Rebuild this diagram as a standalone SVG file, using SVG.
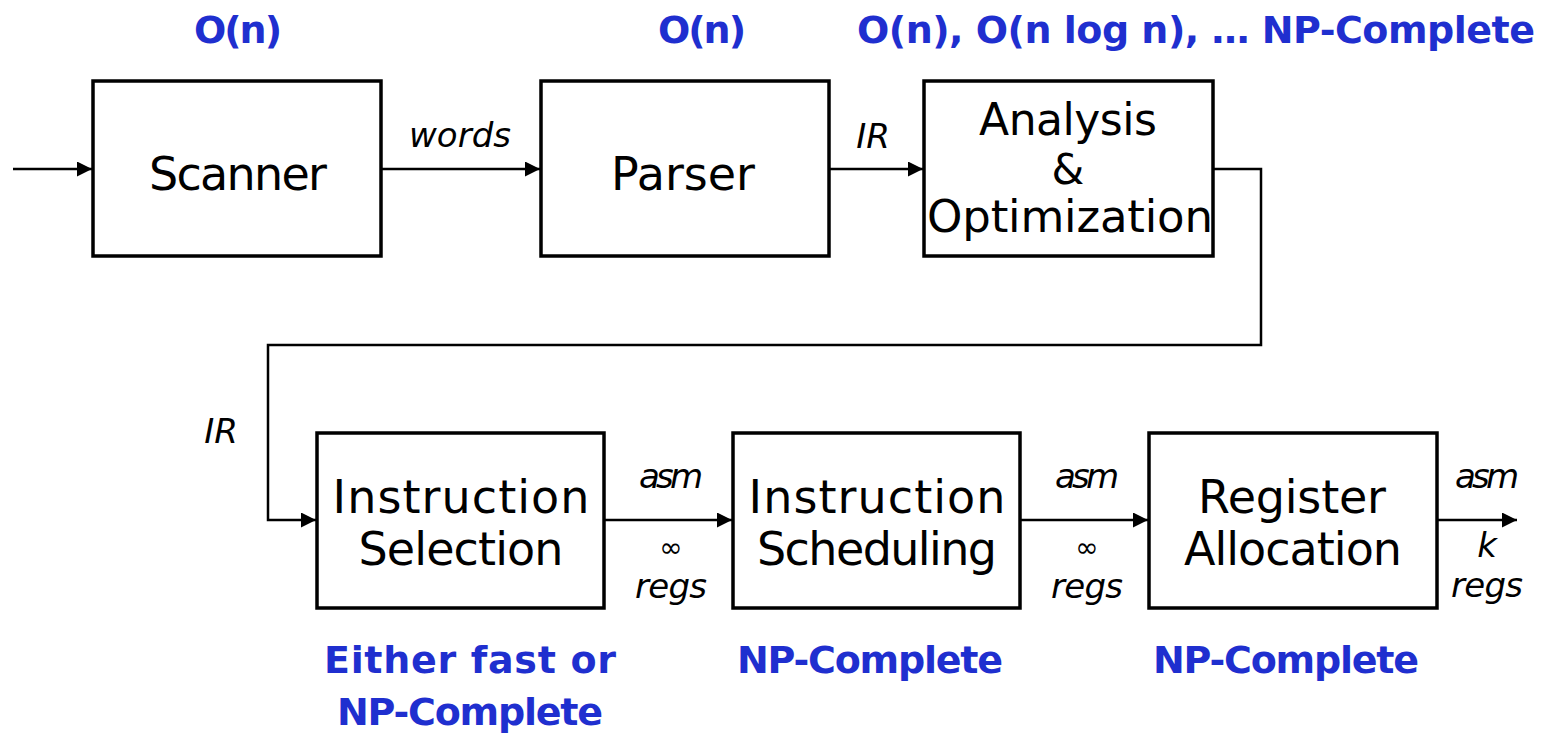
<svg xmlns="http://www.w3.org/2000/svg" width="1543" height="735" viewBox="0 0 1543 735">
<style>
.box{fill:#fff;stroke:#000;stroke-width:3.5}
.lbl{font-family:"DejaVu Sans",sans-serif;font-size:46px;fill:#000;text-anchor:middle}
.it{font-family:"DejaVu Sans",sans-serif;font-style:italic;font-size:34px;fill:#000;text-anchor:middle}
.inf{font-size:28px}
.cx{font-family:"DejaVu Sans",sans-serif;font-weight:bold;font-size:38px;fill:#1f2fcf;text-anchor:middle}
.ln{fill:none;stroke:#000;stroke-width:2.5}
</style>
<defs>
<marker id="ah" viewBox="0 0 10 10" refX="10" refY="5" markerWidth="15" markerHeight="15" markerUnits="userSpaceOnUse" orient="auto">
<path d="M0,0 L10,5 L0,10 z" fill="#000"/>
</marker>
</defs>
<g id="connectors">
<path class="ln" d="M13,169 H92" marker-end="url(#ah)"/>
<path class="ln" d="M381,169 H540" marker-end="url(#ah)"/>
<path class="ln" d="M829,169 H923" marker-end="url(#ah)"/>
<path class="ln" d="M1213,169 H1261 V345 H268 V520 H316" marker-end="url(#ah)" stroke-width="2"/>
<path class="ln" d="M604,520 H732" marker-end="url(#ah)"/>
<path class="ln" d="M1020,520 H1148" marker-end="url(#ah)"/>
<path class="ln" d="M1437,520 H1517" marker-end="url(#ah)"/>
<text class="it" x="460" y="147" textLength="102">words</text>
<text class="it" x="873" y="148">IR</text>
<text class="it" x="221" y="443">IR</text>
<text class="it" x="671" y="488" textLength="64">asm</text>
<text class="it inf" x="671" y="557">∞</text>
<text class="it" x="671" y="598" textLength="72">regs</text>
<text class="it" x="1087" y="488" textLength="64">asm</text>
<text class="it inf" x="1087" y="557">∞</text>
<text class="it" x="1087" y="598" textLength="72">regs</text>
<text class="it" x="1487" y="488" textLength="64">asm</text>
<text class="it" x="1487" y="557">k</text>
<text class="it" x="1487" y="597" textLength="72">regs</text>
</g>
<g id="scanner">
<rect class="box" x="93" y="81" width="288" height="175"/>
<text class="lbl" x="238" y="190" textLength="178">Scanner</text>
</g>
<g id="parser">
<rect class="box" x="541" y="81" width="288" height="175"/>
<text class="lbl" x="683" y="190" textLength="144">Parser</text>
</g>
<g id="analysis">
<rect class="box" x="924" y="81" width="289" height="175"/>
<text class="lbl" x="1068" y="135" textLength="178" style="font-size:44px">Analysis</text>
<text class="lbl" x="1068" y="184" style="font-size:42px">&amp;</text>
<text class="lbl" x="1070" y="232" textLength="286" style="font-size:45px">Optimization</text>
</g>
<g id="selection">
<rect class="box" x="317" y="433" width="287" height="175"/>
<text class="lbl" x="461" y="513" textLength="257">Instruction</text>
<text class="lbl" x="461" y="565" textLength="205">Selection</text>
</g>
<g id="scheduling">
<rect class="box" x="733" y="433" width="287" height="175"/>
<text class="lbl" x="877" y="513" textLength="257">Instruction</text>
<text class="lbl" x="877" y="565" textLength="240">Scheduling</text>
</g>
<g id="allocation">
<rect class="box" x="1149" y="433" width="288" height="175"/>
<text class="lbl" x="1292" y="513" textLength="188">Register</text>
<text class="lbl" x="1293" y="565" textLength="218">Allocation</text>
</g>
<g id="complexity">
<text class="cx" x="238" y="43" textLength="88">O(n)</text>
<text class="cx" x="702" y="43" textLength="88">O(n)</text>
<text class="cx" x="1196" y="43" textLength="678">O(n), O(n log n), … NP-Complete</text>
<text class="cx" x="470" y="673" textLength="292">Either fast or</text>
<text class="cx" x="470" y="725" textLength="266">NP-Complete</text>
<text class="cx" x="870" y="673" textLength="266">NP-Complete</text>
<text class="cx" x="1286" y="673" textLength="266">NP-Complete</text>
</g>
</svg>
